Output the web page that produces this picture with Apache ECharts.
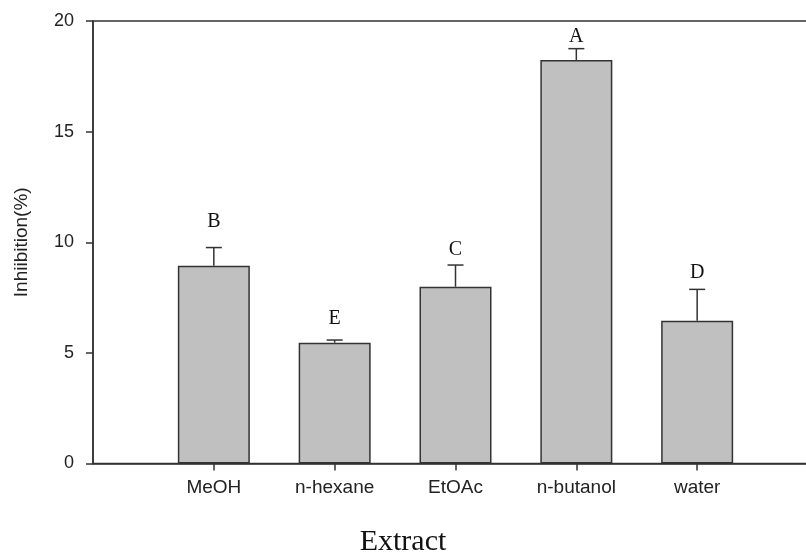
<!DOCTYPE html>
<html>
<head>
<meta charset="utf-8">
<script src="https://cdn.jsdelivr.net/npm/echarts@6/dist/echarts.min.js"></script>
<style>
  html, body { margin: 0; padding: 0; background: #fff; }
  #chart { width: 806px; height: 558px; }
</style>
</head>
<body>
<div id="chart"></div>
<script>
// empty slots at both ends so the bars land where the original puts them
const categories = ['', 'MeOH', 'n-hexane', 'EtOAc', 'n-butanol', 'water', ''];
const means = [null, 8.94, 5.46, 7.99, 18.24, 6.45, null];
const errTop = [null, 9.76, 5.58, 8.97, 18.75, 7.87, null];
const letters = [null, 'B', 'E', 'C', 'A', 'D', null];
const letterY = [null, 10.92, 6.53, 9.68, 19.3, 8.61, null];
const yTicks = [0, 5, 10, 15, 20];

const lineCol = '#333';
let chart = echarts.init(document.getElementById('chart'));

// error bars: only the upper half, with a cap
const errData = [];
const letterData = [];
categories.forEach((c, i) => {
  if (means[i] != null) {
    errData.push([i, means[i], errTop[i]]);
    letterData.push([i, letterY[i], letters[i]]);
  }
});

const option = {
  backgroundColor: '#fff',
  animation: false,
  // frame runs past the right edge of the picture, as in the original crop
  grid: {
    left: 93, top: 21, width: 725, height: 442.5,
    outerBoundsMode: 'none',
    containLabel: false,
    show: true, borderColor: lineCol, borderWidth: 1.5
  },
  xAxis: {
    type: 'category',
    data: categories,
    boundaryGap: false,
    axisLine: { lineStyle: { color: lineCol, width: 1.5 } },
    axisTick: {
      length: 7, lineStyle: { color: lineCol, width: 1.5 },
      interval: (i) => categories[i] !== ''
    },
    axisLabel: {
      margin: 15, color: '#222', fontFamily: 'Liberation Sans', fontSize: 19,
      interval: 0
    },
    splitLine: { show: false }
  },
  yAxis: {
    type: 'value',
    min: 0, max: 20, interval: 5,
    name: 'Inhiibition(%)',
    nameLocation: 'middle',
    nameGap: 62,
    nameTextStyle: { color: '#222', fontFamily: 'Liberation Sans', fontSize: 19 },
    axisLine: { show: true, lineStyle: { color: lineCol, width: 1.5 } },
    axisTick: { show: true, length: 7, lineStyle: { color: lineCol, width: 1.5 } },
    axisLabel: {
      margin: 19, color: '#222', fontFamily: 'Liberation Sans', fontSize: 18,
      formatter: (v) => yTicks.includes(v) ? String(v) : ''
    },
    splitLine: { show: false }
  },
  graphic: [{
    type: 'text',
    left: 'center',
    top: 527,
    style: { text: 'Extract', fill: '#111', font: '30px "Liberation Serif"' }
  }],
  series: [
    {
      type: 'bar',
      data: means,
      barWidth: 72,
      itemStyle: { color: '#c0c0c0', borderColor: lineCol, borderWidth: 1.5 }
    },
    {
      type: 'custom',
      data: errData,
      z: 3,
      renderItem: function (params, api) {
        const base = api.coord([api.value(0), api.value(1)]);
        const top = api.coord([api.value(0), api.value(2)]);
        const hw = 8;
        const st = { stroke: lineCol, lineWidth: 1.5 };
        return {
          type: 'group',
          children: [
            { type: 'line', shape: { x1: base[0], y1: base[1], x2: top[0], y2: top[1] }, style: st },
            { type: 'line', shape: { x1: top[0] - hw, y1: top[1], x2: top[0] + hw, y2: top[1] }, style: st }
          ]
        };
      }
    },
    {
      type: 'custom',
      data: letterData,
      z: 4,
      renderItem: function (params, api) {
        const p = api.coord([api.value(0), api.value(1)]);
        return {
          type: 'text',
          x: p[0], y: p[1],
          style: {
            text: letterData[params.dataIndex][2],
            fill: '#111',
            font: '20px "Liberation Serif"',
            align: 'center',
            verticalAlign: 'middle'
          }
        };
      }
    }
  ]
};

chart.setOption(option);
</script>
</body>
</html>
